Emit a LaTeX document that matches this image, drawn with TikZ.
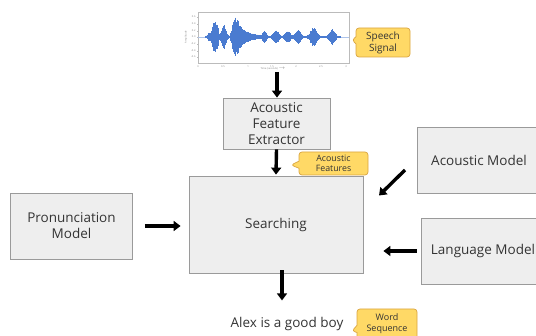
\documentclass[tikz,border=0pt]{standalone}
\usepackage{fontspec}
\setmainfont{Open Sans}
\usetikzlibrary{arrows.meta,shapes.callouts}

\definecolor{boxfill}{HTML}{EEEEEE}
\definecolor{boxline}{HTML}{9A9A9A}
\definecolor{textdark}{HTML}{333333}
\definecolor{notefill}{HTML}{FFD966}
\definecolor{noteline}{HTML}{D9A441}
\definecolor{wavecol}{HTML}{4A7BD0}
\definecolor{axiscol}{HTML}{BBBBBB}

\tikzset{
  block/.style={draw=boxline, fill=boxfill, line width=0.8pt, text=textdark,
    font=\fontsize{13.5}{16}\selectfont, align=center, inner sep=0pt},
  flow/.style={line width=3.4pt, -{Triangle[length=7pt,width=10pt]}},
  note/.style={rectangle callout, draw=noteline, fill=notefill, line width=0.7pt,
    rounded corners=3pt, text=textdark, align=center, inner sep=0pt},
  wave/.style={wavecol, line width=0.5pt},
  tick/.style={text=gray, font=\fontsize{2.5}{3}\selectfont, inner sep=0.3pt}
}

\begin{document}
\begin{tikzpicture}[x=1pt, y=-1pt]
\useasboundingbox (0,0) rectangle (536,336);

% ---- speech waveform plot ----
\draw[axiscol, line width=0.4pt] (198,12) rectangle (349,63);
\draw[wavecol!45, line width=0.5pt] (198,37) -- (349,37);
\pgfmathsetseed{11}
\foreach \x in {205,205.4,...,340} {
  \pgfmathsetmacro{\env}{3.5*exp(-((\x-209)/2.5)^2)
    + 13*exp(-((\x-213.5)/2)^2) + 13*exp(-((\x-216.5)/2)^2)
    + 13*exp(-((\x-223.5)/2.7)^2) + 20*exp(-((\x-234.5)/3)^2)
    + (\x>237)*(\x<263)*14*exp(-(\x-237)/10)
    + 5.5*exp(-((\x-264.5)/2.5)^2) + 6*exp(-((\x-276)/3.8)^2)
    + 5.5*exp(-((\x-287.5)/3.2)^2) + 6.5*exp(-((\x-298)/3.8)^2)
    + 9*exp(-((\x-313.5)/4.2)^2) + 8*exp(-((\x-332)/3.6)^2) + 0.5}
  \pgfmathsetmacro{\h}{\env*(0.72+0.28*rnd)}
  \draw[wave] (\x,37-\h) -- (\x,37+\h);
}
% axis ticks and labels
\foreach \px/\lab in {198/0, 223/0.5, 248/1, 272/1.5, 296/2, 321/2.5, 346/3} {
  \draw[axiscol, line width=0.3pt] (\px,63) -- (\px,64.5);
  \node[tick, anchor=north] at (\px,65) {\lab};
}
\foreach \py/\lab in {17/0.6, 24/0.4, 31/0.2, 37/0.0, 44/-0.2, 51/-0.4, 57/-0.6} {
  \draw[axiscol, line width=0.3pt] (198,\py) -- (196.5,\py);
  \node[tick, anchor=east] at (196,\py) {\lab};
}
\node[tick, rotate=90] at (186,37) {Amplitude};
\node[tick] at (273,69) {Time (seconds) $\rightarrow$};

% ---- blocks ----
\node[block, minimum width=107pt, minimum height=51pt] (extractor) at (276.5,123.5)
  {Acoustic\\Feature\\Extractor};
\node[block, minimum width=174pt, minimum height=97pt] (search) at (276,224.5) {Searching};
\node[block, minimum width=124pt, minimum height=66pt] (acmodel) at (479,160) {Acoustic Model};
\node[block, minimum width=124pt, minimum height=66pt] (lmodel) at (483,251) {Language Model};
\node[block, minimum width=122pt, minimum height=66pt] (pron) at (71.5,226) {Pronunciation\\Model};
\node[text=textdark, font=\fontsize{13.5}{16}\selectfont, inner sep=0pt] (result) at (287,324)
  {Alex is a good boy};

% ---- arrow end points ----
\coordinate (wavebot) at (277,72);
\coordinate (amfrom) at (405,170);
\coordinate (amto) at (379,195.5);

% ---- connectors ----
\draw[flow] (wavebot) -- (wavebot |- extractor.north);
\draw[flow] (extractor.south) -- ([yshift=1pt]search.north);
\draw[flow] (amfrom) -- (amto);
\draw[flow] ([xshift=-4pt]lmodel.west) -- ([xshift=20pt]lmodel.west -| search.east);
\draw[flow] ([xshift=12pt]pron.east) -- ([xshift=-8pt]search.west |- pron.east);
\draw[flow] ([xshift=6pt,yshift=3pt]search.south) -- ([xshift=6pt,yshift=-27pt]search.south);

% ---- callouts ----
\node[note, minimum width=54pt, minimum height=29pt, font=\fontsize{10}{12}\selectfont,
  callout absolute pointer={(352,40)}] (sig) at (383,42.5) {Speech\\Signal};
\node[note, minimum width=69pt, minimum height=23pt, font=\fontsize{8.8}{10.5}\selectfont,
  callout absolute pointer={(291,165)}] (feat) at (333.5,163.5) {Acoustic\\Features};
\node[note, minimum width=60pt, minimum height=30pt, font=\fontsize{9}{11}\selectfont,
  callout absolute pointer={(352,331)}] (words) at (387,324) {Word\\Sequence};
\end{tikzpicture}
\end{document}
